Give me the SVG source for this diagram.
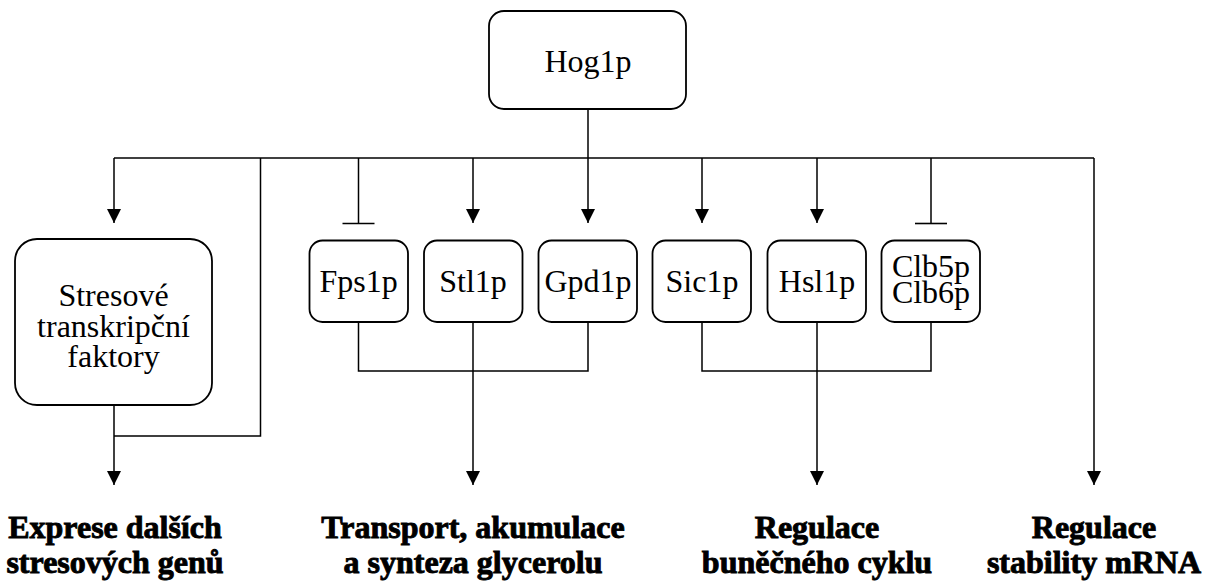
<svg xmlns="http://www.w3.org/2000/svg" width="1219" height="581" viewBox="0 0 1219 581">
  <defs>
    <marker id="arrow" markerUnits="userSpaceOnUse" markerWidth="14" markerHeight="14" refX="14" refY="7" orient="auto">
      <path d="M0,0 L14,7 L0,14 Z" fill="#000"/>
    </marker>
    <marker id="tee" markerUnits="userSpaceOnUse" markerWidth="4" markerHeight="34" refX="2" refY="17" orient="auto">
      <path d="M2,1 L2,33" stroke="#000" stroke-width="1.6" fill="none"/>
    </marker>
  </defs>
  <style>
    rect.box { fill: #fff; stroke: #000; stroke-width: 1.8; }
    .conn path { fill: none; stroke: #000; stroke-width: 1.5; }
    text { fill: #000; text-anchor: middle; }
    .lbl { font-size: 32px; }
    .out { font-size: 32px; font-weight: bold; stroke: #000; stroke-width: 0.9; }
  </style>
  <rect width="1219" height="581" fill="#fff"/>

  <!-- connectors -->
  <g id="connectors" class="conn">
    <!-- Hog1p trunk and bus -->
    <path d="M588,109 V158"/>
    <path d="M114,158 H1094"/>
    <!-- branches to protein targets -->
    <path d="M114,158 V223" marker-end="url(#arrow)"/>
    <path d="M358.5,158 V223.5" marker-end="url(#tee)"/>
    <path d="M473,158 V223" marker-end="url(#arrow)"/>
    <path d="M588,158 V223" marker-end="url(#arrow)"/>
    <path d="M702,158 V223" marker-end="url(#arrow)"/>
    <path d="M817,158 V223" marker-end="url(#arrow)"/>
    <path d="M931,158 V223.5" marker-end="url(#tee)"/>
    <!-- direct branch to gene expression -->
    <path d="M260.5,158 V436 H114"/>
    <path d="M114,405 V485" marker-end="url(#arrow)"/>
    <!-- glycerol group -->
    <path d="M358.5,322 V371 H588 V322"/>
    <path d="M473,322 V485" marker-end="url(#arrow)"/>
    <!-- cell cycle group -->
    <path d="M702,322 V371 H931 V321"/>
    <path d="M817,322 V485" marker-end="url(#arrow)"/>
    <!-- mRNA stability -->
    <path d="M1094,158 V485" marker-end="url(#arrow)"/>
  </g>

  <g font-family="'Liberation Serif', 'DejaVu Serif', serif">
    <g id="hog1p">
      <rect class="box" x="489" y="11" width="197" height="98" rx="15"/>
      <text class="lbl" x="588" y="72">Hog1p</text>
    </g>

    <g id="tf">
      <rect class="box" x="15" y="239" width="197" height="166" rx="22"/>
      <text class="lbl" x="113.5" y="306">Stresové</text>
      <text class="lbl" x="113.5" y="336.5">transkripční</text>
      <text class="lbl" x="113.5" y="367">faktory</text>
    </g>

    <g id="fps1p">
      <rect class="box" x="309.5" y="240.5" width="98.5" height="81.5" rx="13"/>
      <text class="lbl" x="358.5" y="292">Fps1p</text>
    </g>
    <g id="stl1p">
      <rect class="box" x="424" y="240.5" width="98.5" height="81.5" rx="13"/>
      <text class="lbl" x="473" y="292">Stl1p</text>
    </g>
    <g id="gpd1p">
      <rect class="box" x="538.5" y="240.5" width="98.5" height="81.5" rx="13"/>
      <text class="lbl" x="588" y="292">Gpd1p</text>
    </g>
    <g id="sic1p">
      <rect class="box" x="652.5" y="240.5" width="98.5" height="81.5" rx="13"/>
      <text class="lbl" x="702" y="292">Sic1p</text>
    </g>
    <g id="hsl1p">
      <rect class="box" x="767.5" y="240.5" width="98.5" height="81.5" rx="13"/>
      <text class="lbl" x="817" y="292">Hsl1p</text>
    </g>
    <g id="clb56p">
      <rect class="box" x="881.5" y="240.5" width="98.5" height="81.5" rx="13"/>
      <text class="lbl" x="931" y="277">Clb5p</text>
      <text class="lbl" x="931" y="303">Clb6p</text>
    </g>

    <g id="out-expression">
      <text class="out" x="115" y="538">Exprese dalších</text>
      <text class="out" x="115" y="573">stresových genů</text>
    </g>
    <g id="out-glycerol">
      <text class="out" x="473" y="538">Transport, akumulace</text>
      <text class="out" x="473" y="573">a synteza glycerolu</text>
    </g>
    <g id="out-cellcycle">
      <text class="out" x="817" y="538">Regulace</text>
      <text class="out" x="817" y="573">buněčného cyklu</text>
    </g>
    <g id="out-mrna">
      <text class="out" x="1094" y="538">Regulace</text>
      <text class="out" x="1094" y="573">stability mRNA</text>
    </g>
  </g>
</svg>
